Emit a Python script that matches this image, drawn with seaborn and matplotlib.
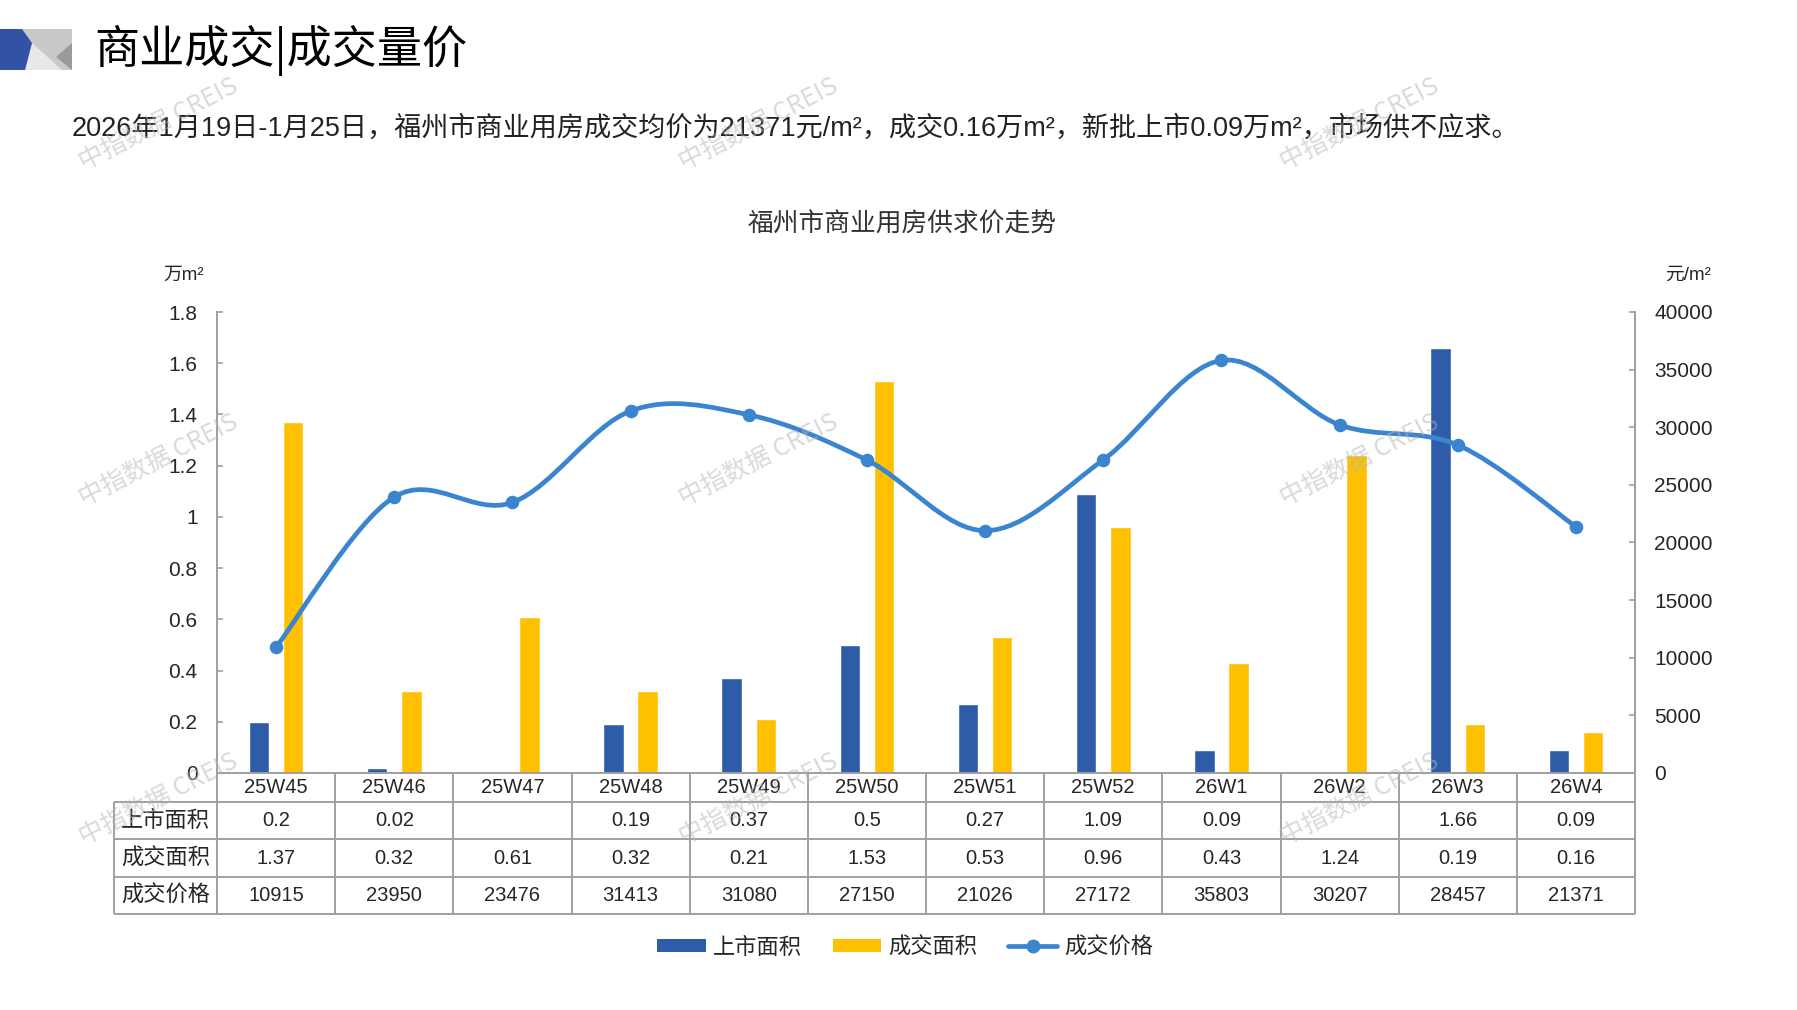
import numpy as np
import pandas as pd
import matplotlib
matplotlib.use("Agg")
import matplotlib.pyplot as plt
import seaborn as sns
from matplotlib.path import Path
from matplotlib.patches import PathPatch, Patch, Polygon
from matplotlib.lines import Line2D
from matplotlib.ticker import FuncFormatter, MultipleLocator
from matplotlib.transforms import blended_transform_factory

# -----------------------------
# Data
# -----------------------------
weeks = ["25W45", "25W46", "25W47", "25W48", "25W49", "25W50",
         "25W51", "25W52", "26W1", "26W2", "26W3", "26W4"]
listed_area = [0.2, 0.02, np.nan, 0.19, 0.37, 0.5, 0.27, 1.09, 0.09, np.nan, 1.66, 0.09]
deal_area = [1.37, 0.32, 0.61, 0.32, 0.21, 1.53, 0.53, 0.96, 0.43, 1.24, 0.19, 0.16]
deal_price = [10915, 23950, 23476, 31413, 31080, 27150, 21026, 27172, 35803, 30207, 28457, 21371]
series_names = ["上市面积", "成交面积", "成交价格"]

BLUE = "#2E5CA8"
YELLOW = "#FFC000"
LINE = "#3B84CF"
GRAY = "#A0A0A0"
W, H = 1797, 1010

sns.set_theme(style="white")
plt.rcParams["font.family"] = ["Liberation Sans", "Noto Sans CJK SC", "DejaVu Sans"]
CJK = ["Noto Sans CJK SC", "DejaVu Sans"]


def px(x, y):
    # pixel position (top-left origin) -> figure fraction
    return (x / W, 1 - y / H)


fig = plt.figure(figsize=(W / 100, H / 100), dpi=100)
fig.patch.set_facecolor("white")

# -----------------------------
# Header
# -----------------------------
fig.add_artist(Polygon([px(0, 29), px(72, 29), px(72, 70), px(0, 70)],
                       closed=True, transform=fig.transFigure, color="#C9C9C9", lw=0))
fig.add_artist(Polygon([px(25, 70), px(32, 43), px(62, 70)],
                       closed=True, transform=fig.transFigure, color="#E8E8E8", lw=0))
fig.add_artist(Polygon([px(56, 57), px(72, 43), px(72, 70)],
                       closed=True, transform=fig.transFigure, color="#9A9A9A", lw=0))
fig.add_artist(Polygon([px(0, 29), px(22, 29), px(32, 43), px(25, 70), px(0, 70)],
                       closed=True, transform=fig.transFigure, color="#3253A5", lw=0))

fig.text(*px(94, 50), "商业成交|成交量价", fontsize=32.5, family=CJK,
         ha="left", va="center", color="black")
fig.text(*px(72, 129),
         "2026年1月19日-1月25日，福州市商业用房成交均价为21371元/m²，成交0.16万m²，新批上市0.09万m²，市场供不应求。",
         fontsize=19.5, ha="left", va="center", color="#222222")
fig.text(*px(902, 225), "福州市商业用房供求价走势", fontsize=18.5, family=CJK,
         ha="center", va="center", color="#333333")

# -----------------------------
# Bars
# -----------------------------
ax = fig.add_axes([217 / W, 1 - 773 / H, (1635 - 217) / W, (773 - 312) / H])

bars = pd.DataFrame({
    "week": weeks * 2,
    "series": [series_names[0]] * len(weeks) + [series_names[1]] * len(weeks),
    "value": listed_area + deal_area,
})

sns.barplot(data=bars, x="week", y="value", hue="series",
            palette=[BLUE, YELLOW], width=0.58, gap=0.4,
            saturation=1, legend=False, ax=ax)

ax.set_xlim(-0.5, len(weeks) - 0.5)
ax.set_ylim(0, 1.8)
ax.yaxis.set_major_locator(MultipleLocator(0.2))
ax.yaxis.set_major_formatter(FuncFormatter(lambda v, p: f"{v:g}"))
ax.set_xticks([])
ax.set_xlabel("")
ax.set_ylabel("")
ax.tick_params(axis="y", direction="in", length=4, color=GRAY, width=1.2,
               labelsize=15, pad=14, left=True)
for side in ["left", "bottom", "right"]:
    ax.spines[side].set_color(GRAY)
    ax.spines[side].set_linewidth(1.4)
ax.spines["top"].set_visible(False)

# -----------------------------
# Price line (smoothed, right axis)
# -----------------------------
ax2 = ax.twinx()
xs = np.arange(len(weeks), dtype=float)
ys = np.array(deal_price, dtype=float)
verts = [(xs[0], ys[0])]
codes = [Path.MOVETO]
n = len(xs)
for i in range(n - 1):
    prev = max(i - 1, 0)
    nxt = min(i + 2, n - 1)
    c1 = (xs[i] + (xs[i + 1] - xs[prev]) / 6, ys[i] + (ys[i + 1] - ys[prev]) / 6)
    c2 = (xs[i + 1] - (xs[nxt] - xs[i]) / 6, ys[i + 1] - (ys[nxt] - ys[i]) / 6)
    verts += [c1, c2, (xs[i + 1], ys[i + 1])]
    codes += [Path.CURVE4] * 3
ax2.add_patch(PathPatch(Path(verts, codes), facecolor="none", edgecolor=LINE,
                        lw=3.4, capstyle="round", joinstyle="round", zorder=3))
sns.scatterplot(x=xs, y=ys, ax=ax2, color=LINE, s=95, linewidth=0,
                zorder=4, legend=False)

ax2.set_xlim(-0.5, len(weeks) - 0.5)
ax2.set_ylim(0, 40000)
ax2.yaxis.set_major_locator(MultipleLocator(5000))
ax2.yaxis.set_major_formatter(FuncFormatter(lambda v, p: f"{v:.0f}"))
ax2.set_ylabel("")
ax2.tick_params(axis="y", direction="in", length=4, color=GRAY, width=1.2,
                labelsize=15, pad=14, right=True)
for side in ["left", "bottom", "right"]:
    ax2.spines[side].set_color(GRAY)
    ax2.spines[side].set_linewidth(1.4)
ax2.spines["top"].set_visible(False)

fig.text(*px(184, 275), "万m²", fontsize=13.5, ha="center", va="center")
fig.text(*px(1688, 275), "元/m²", fontsize=13.5, ha="center", va="center")

# -----------------------------
# Data table under the chart
# -----------------------------
trans = blended_transform_factory(ax.transData, ax.transAxes)
left_col = -0.0726
row_edges = [0.0, -0.0629, -0.1432, -0.2256, -0.3059]
line_kw = dict(color=GRAY, lw=1.4, clip_on=False, solid_capstyle="butt")

for yb in row_edges[1:]:
    ax.plot([left_col, 1], [yb, yb], transform=ax.transAxes, **line_kw)
for k in range(len(weeks) + 1):
    ax.plot([k - 0.5, k - 0.5], [row_edges[0], row_edges[-1]], transform=trans, **line_kw)
ax.plot([left_col, left_col], [row_edges[1], row_edges[-1]], transform=ax.transAxes, **line_kw)

row_mid = [(row_edges[i] + row_edges[i + 1]) / 2 for i in range(4)]
table_rows = [
    ["" if np.isnan(v) else f"{v:g}" for v in listed_area],
    [f"{v:g}" for v in deal_area],
    [str(v) for v in deal_price],
]

for k, wk in enumerate(weeks):
    ax.text(k, row_mid[0], wk, transform=trans, ha="center", va="center", fontsize=14.5)
    for r, row in enumerate(table_rows):
        ax.text(k, row_mid[r + 1], row[k], transform=trans, ha="center",
                va="center", fontsize=14.5)
for r, name in enumerate(series_names):
    ax.text(left_col / 2, row_mid[r + 1], name, transform=ax.transAxes,
            ha="center", va="center", fontsize=16, family=CJK)

# -----------------------------
# Legend
# -----------------------------
handles = [
    Patch(facecolor=BLUE, edgecolor="none"),
    Patch(facecolor=YELLOW, edgecolor="none"),
    Line2D([], [], color=LINE, lw=3.4, marker="o", markersize=9),
]
fig.legend(handles, series_names, loc="center", bbox_to_anchor=(0.5035, 1 - 947 / H),
           ncol=3, frameon=False, prop={"family": CJK, "size": 16},
           handlelength=2.2, handleheight=0.5, columnspacing=1.4, handletextpad=0.3)

# -----------------------------
# Watermarks
# -----------------------------
for cx in [159, 759, 1360]:
    for cy in [124, 460, 799]:
        fig.text(*px(cx, cy), "中指数据 CREIS", fontsize=18, family=CJK,
                 rotation=27, ha="center", va="center", color="#B4B4B4",
                 alpha=0.5, zorder=10)

fig.savefig("out.png", dpi=100)
